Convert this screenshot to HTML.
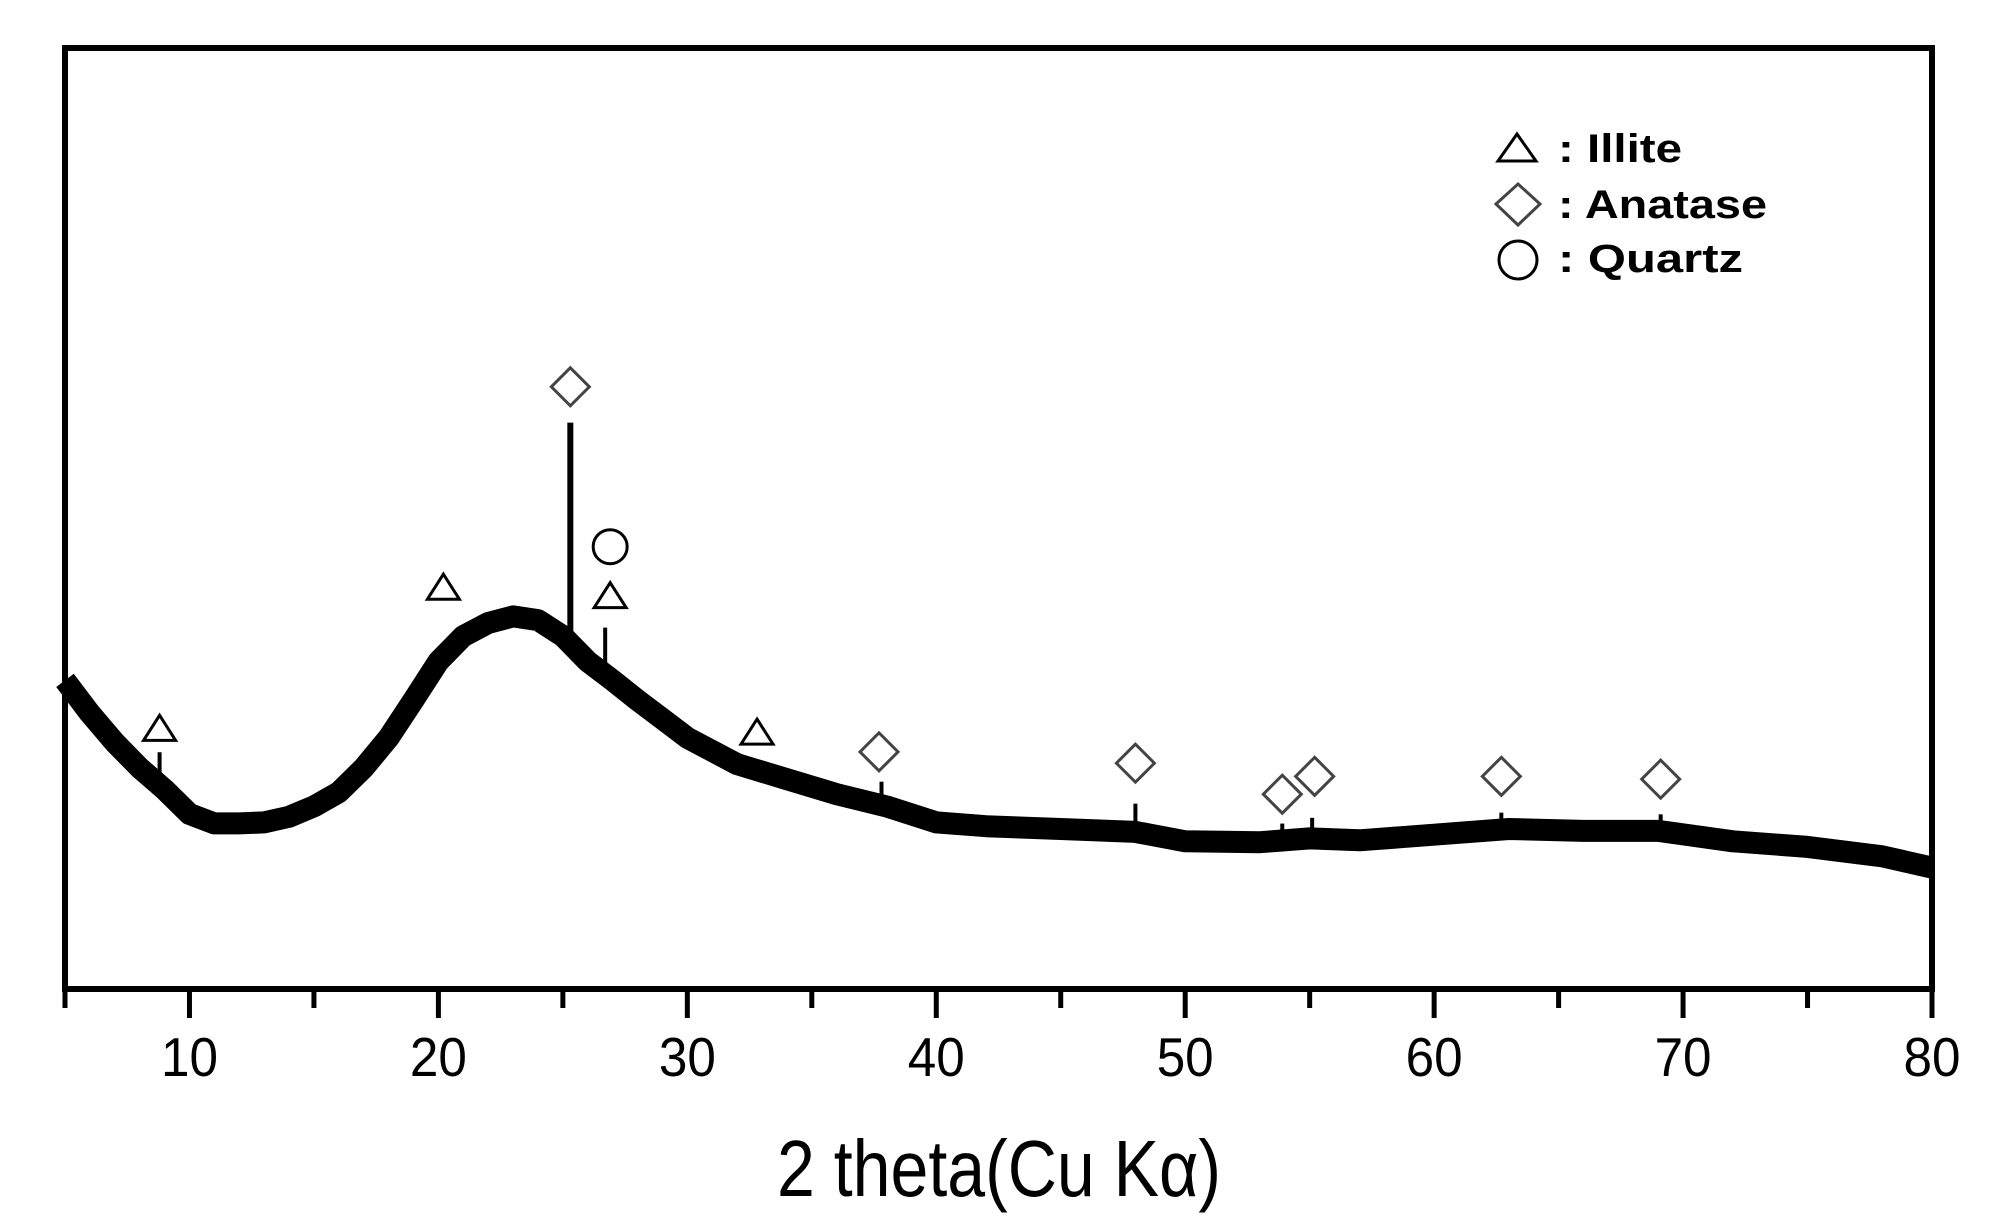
<!DOCTYPE html>
<html><head><meta charset="utf-8"><style>
html,body{margin:0;padding:0;background:#fff;}
svg{display:block;}
</style></head><body>
<svg id="chart" width="2003" height="1227" viewBox="0 0 2003 1227" xmlns="http://www.w3.org/2000/svg">
<rect x="65" y="48" width="1867" height="941" fill="none" stroke="#000" stroke-width="6"/>
<g id="ticks"></g>
<g id="curve"></g>
<g id="markers"></g>
<text x="999" y="1196" text-anchor="middle" font-family="Liberation Sans, sans-serif" font-size="80" textLength="444" lengthAdjust="spacingAndGlyphs">2 theta(Cu Kα)</text>
<g font-family="Liberation Sans, sans-serif" font-weight="bold" font-size="40">
  <g>
    <polygon points="1517,134 1536,161 1498,161" fill="none" stroke="#000" stroke-width="3"/>
    <text x="1558" y="162" textLength="124" lengthAdjust="spacingAndGlyphs">: Illite</text>
  </g>
  <g>
    <polygon points="1518,184 1540,204 1518,225 1496,204" fill="none" stroke="#444" stroke-width="3"/>
    <text x="1558" y="218" textLength="209" lengthAdjust="spacingAndGlyphs">: Anatase</text>
  </g>
  <g>
    <circle cx="1518" cy="260" r="19" fill="none" stroke="#000" stroke-width="3"/>
    <text x="1558" y="272" textLength="185" lengthAdjust="spacingAndGlyphs">: Quartz</text>
  </g>
</g>
</svg>
<script>
// data
const baseX = [5,6,7,8,9,10,11,12,13,14,15,16,17,18,19,20,21,22,23,24,25,26,27,28,29,30,32,34,36,38,40,42,45,48,50,53,55,57,60,63,66,69,72,75,78,80];
const baseY = [32.8,29.3,26.2,23.5,21.2,18.6,17.6,17.6,17.7,18.3,19.4,20.9,23.5,26.7,30.7,34.8,37.5,38.9,39.6,39.2,37.5,34.8,32.8,30.7,28.7,26.7,23.9,22.3,20.7,19.4,17.7,17.3,17.0,16.7,15.7,15.6,16.0,15.8,16.4,17.0,16.8,16.8,15.7,15.1,14.1,12.9];
const peakX = [8.8,25.3,26.7,37.8,48.0,53.9,55.1,62.7,69.1];
const peakH = [3.5,23.5,5,2.5,3,1.8,2.2,1.8,1.8];
const tickValues = [5,10,15,20,25,30,35,40,45,50,55,60,65,70,75,80];
const tickLabels = ["10","20","30","40","50","60","70","80"];
const triX = [8.8,20.2,26.9,32.8];
const triY = [27.7,42.7,41.8,27.3];
const diaX = [25.3,37.7,48.0,53.9,55.2,62.7,69.1];
const diaY = [64.0,25.2,24.0,20.7,22.6,22.6,22.3];
const cirX = [26.9];
const cirY = [47.0];

const NS="http://www.w3.org/2000/svg";
const X0=65,X1=1932,Y0=989,Y1=48;
const sx=v=>X0+(v-5)/75*(X1-X0);
const sy=v=>Y0-v/100*(Y0-Y1);
function mk(tag,attrs,parent){const e=document.createElementNS(NS,tag);for(const k in attrs)e.setAttribute(k,attrs[k]);parent.appendChild(e);return e;}
function baseAt(x){for(let i=0;i<baseX.length-1;i++){if(x>=baseX[i]&&x<=baseX[i+1]){const t=(x-baseX[i])/(baseX[i+1]-baseX[i]);return baseY[i]+t*(baseY[i+1]-baseY[i]);}}return baseY[baseY.length-1];}

const tg=document.getElementById('ticks');
tickValues.forEach((v,i)=>{
  const major=v%10===0;
  const l=mk('line',{x1:sx(v),x2:sx(v),y1:989,y2:major?1018:1008,stroke:'#000','stroke-width':5},tg);
  
  
});
tickLabels.forEach(s=>{
  const t=mk('text',{x:sx(+s),y:1076,'text-anchor':'middle','font-family':'Liberation Sans, sans-serif','font-size':55,textLength:57,lengthAdjust:'spacingAndGlyphs'},tg);
  t.textContent=s;
  
  
});

const cg=document.getElementById('curve');
let d='';
baseX.forEach((x,i)=>{d+=(i?'L':'M')+sx(x).toFixed(1)+','+sy(baseY[i]).toFixed(1);});
const bl=mk('path',{d:d,fill:'none',stroke:'#000','stroke-width':22,'stroke-linejoin':'round','stroke-linecap':'butt'},cg);


peakX.forEach((x,i)=>{
  const b=baseAt(x);
  const p=mk('line',{x1:sx(x),x2:sx(x),y1:sy(b),y2:sy(b+peakH[i]),stroke:'#000','stroke-width':i===1?6:4},cg);
  
  
});

const mg=document.getElementById('markers');
triX.forEach((x,i)=>{
  const cx=sx(x),cy=sy(triY[i]);
  const p=mk('polygon',{points:`${cx},${cy-13} ${cx+16},${cy+12} ${cx-16},${cy+12}`,fill:'none',stroke:'#000','stroke-width':3},mg);
  
  
});
diaX.forEach((x,i)=>{
  const cx=sx(x),cy=sy(diaY[i]);
  const p=mk('polygon',{points:`${cx},${cy-19} ${cx+19},${cy} ${cx},${cy+19} ${cx-19},${cy}`,fill:'none',stroke:'#444','stroke-width':3},mg);
  
  
});
cirX.forEach((x,i)=>{
  const c=mk('circle',{cx:sx(x),cy:sy(cirY[i]),r:17,fill:'none',stroke:'#000','stroke-width':3},mg);
  
  
});
</script>
</body></html>
